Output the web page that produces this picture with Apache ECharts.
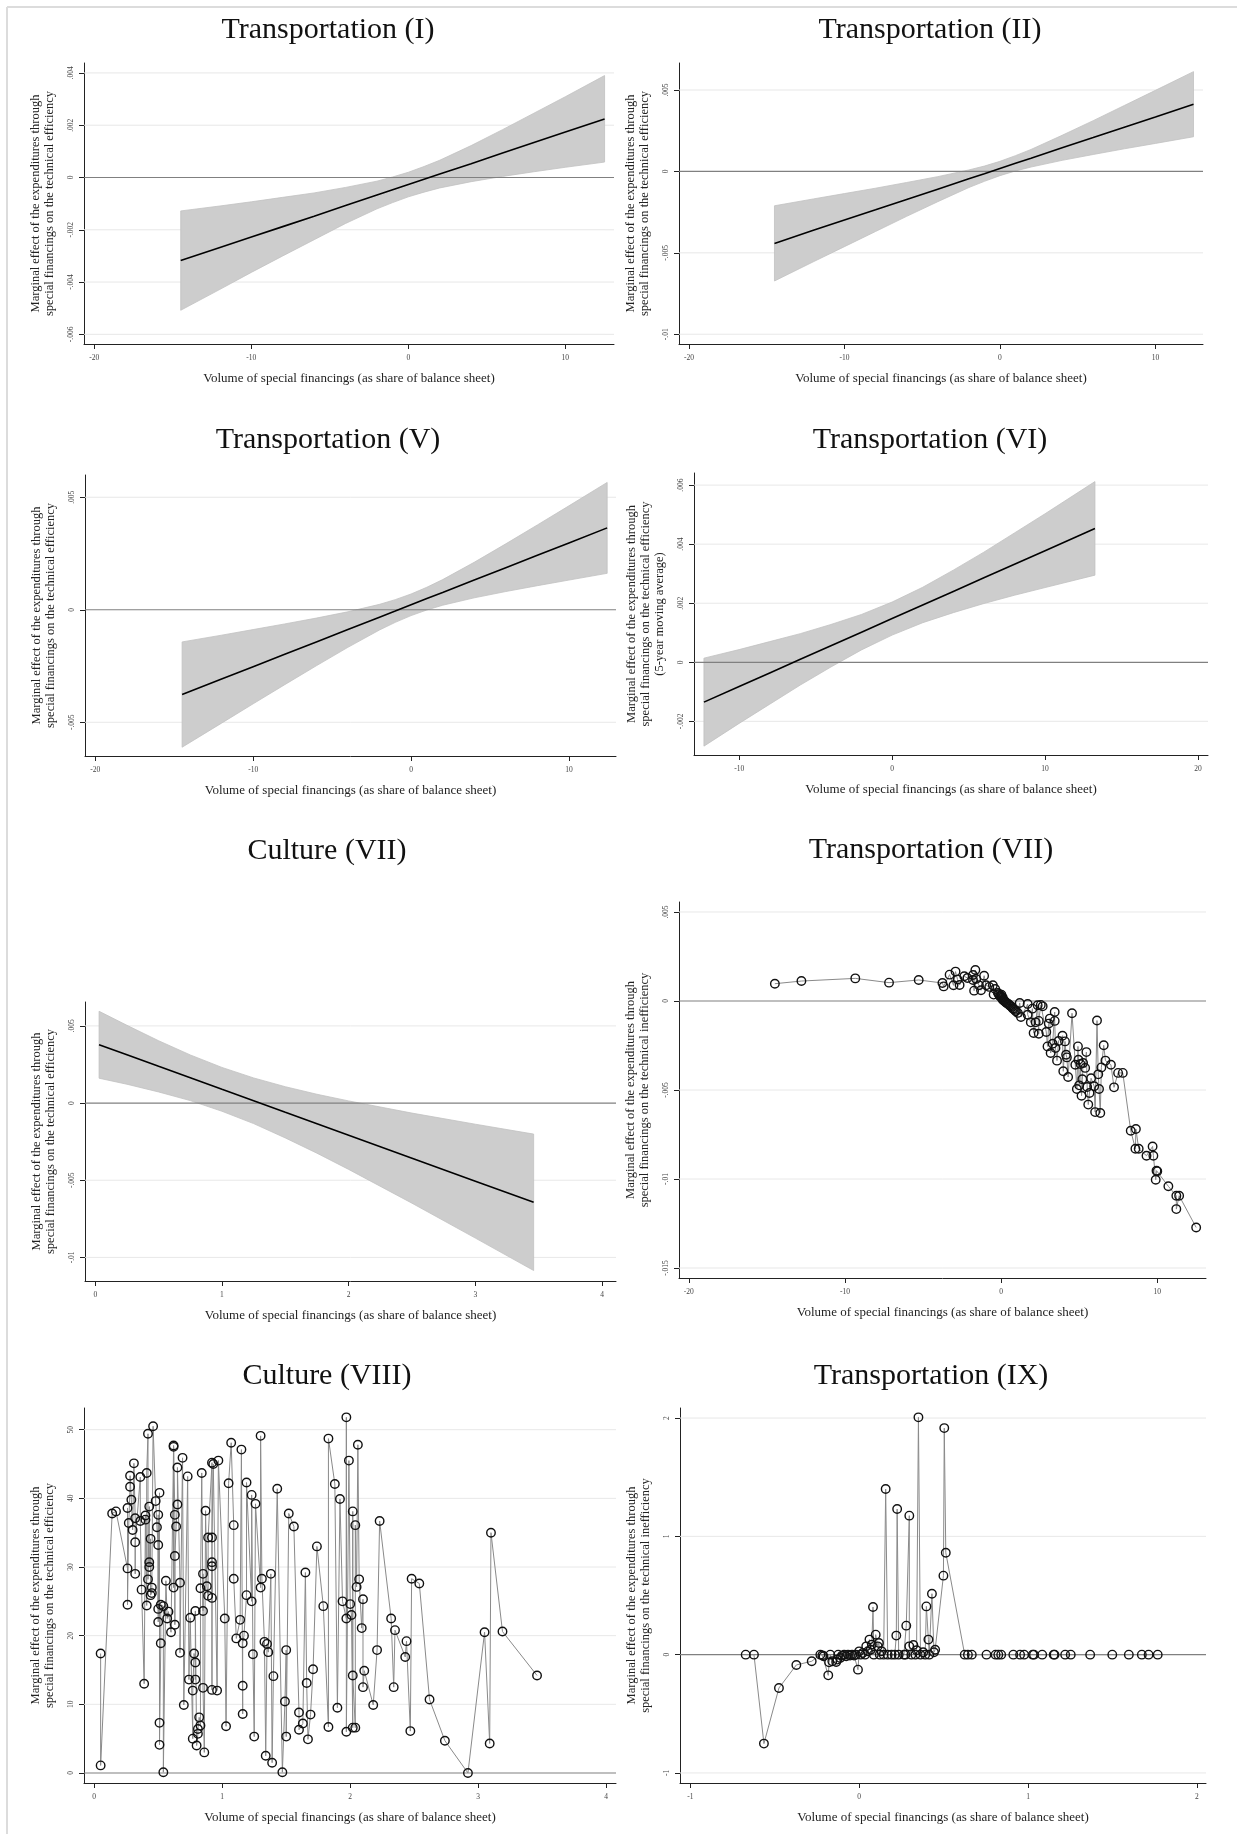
<!DOCTYPE html>
<html><head><meta charset="utf-8">
<script src="https://cdn.jsdelivr.net/npm/echarts@6/dist/echarts.min.js"></script>
<style>html,body{margin:0;padding:0;background:#fff}#c{width:1247px;height:1834px}</style>
</head><body><div id="c"></div>
<script>
// ---------------- DATA ----------------
// Panel 1: Transportation (I)
const p1X     = [-14.5, -12, -10, -8, -6, -4, -2, -1, 0, 1, 2, 4, 6, 8, 10, 12.5];
const p1Fit   = [-0.00318, -0.00268, -0.00228, -0.00188, -0.00148, -0.00107, -0.00067, -0.00047, -0.00027, -0.00007, 0.00013, 0.00053, 0.00094, 0.00134, 0.00174, 0.00224];
const p1Upper = [-0.00128, -0.00109, -0.00093, -0.00076, -0.00059, -0.00038, -0.00014, 0.00002, 0.00020, 0.00042, 0.00066, 0.00122, 0.00183, 0.00246, 0.00309, 0.00390];
const p1Lower = [-0.00508, -0.00428, -0.00363, -0.00300, -0.00238, -0.00176, -0.00120, -0.00096, -0.00074, -0.00056, -0.00040, -0.00016, 0.00004, 0.00022, 0.00039, 0.00059];
const p1XTicks = [-20, -10, 0, 10];            const p1XLabels = ['-20', '-10', '0', '10'];
const p1YTicks = [-0.006, -0.004, -0.002, 0, 0.002, 0.004];
const p1YLabels = ['-.006', '-.004', '-.002', '0', '.002', '.004'];

// Panel 2: Transportation (II)
const p2X     = [-14.5, -12, -10, -8, -6, -4, -2, -1, 0, 1, 2, 4, 6, 8, 10, 12.45];
const p2Fit   = [-0.00442, -0.00362, -0.00299, -0.00236, -0.00172, -0.00109, -0.00045, -0.00014, 0.00018, 0.00050, 0.00081, 0.00145, 0.00208, 0.00272, 0.00335, 0.00413];
const p2Upper = [-0.00211, -0.00169, -0.00136, -0.00103, -0.00068, -0.00032, 0.00009, 0.00033, 0.00062, 0.00097, 0.00135, 0.00222, 0.00312, 0.00405, 0.00498, 0.00613];
const p2Lower = [-0.00673, -0.00555, -0.00462, -0.00369, -0.00276, -0.00186, -0.00099, -0.00061, -0.00026, 0.00003, 0.00027, 0.00068, 0.00104, 0.00139, 0.00172, 0.00213];
const p2XTicks = [-20, -10, 0, 10];            const p2XLabels = ['-20', '-10', '0', '10'];
const p2YTicks = [-0.01, -0.005, 0, 0.005];    const p2YLabels = ['-.01', '-.005', '0', '.005'];

// Panel 3: Transportation (V)
const p3X     = [-14.5, -12, -10, -8, -6, -4, -2, -1, 0, 1, 2, 4, 6, 8, 10, 12.42];
const p3Fit   = [-0.00377, -0.00308, -0.00253, -0.00198, -0.00143, -0.00088, -0.00033, -0.00006, 0.00022, 0.00050, 0.00077, 0.00132, 0.00187, 0.00242, 0.00297, 0.00364];
const p3Upper = [-0.00143, -0.00113, -0.00088, -0.00063, -0.00037, -0.00009, 0.00024, 0.00045, 0.00070, 0.00100, 0.00134, 0.00211, 0.00293, 0.00377, 0.00462, 0.00566];
const p3Lower = [-0.00611, -0.00504, -0.00418, -0.00333, -0.00249, -0.00167, -0.00090, -0.00056, -0.00026, -0.00001, 0.00020, 0.00053, 0.00081, 0.00107, 0.00132, 0.00162];
const p3XTicks = [-20, -10, 0, 10];            const p3XLabels = ['-20', '-10', '0', '10'];
const p3YTicks = [-0.005, 0, 0.005];           const p3YLabels = ['-.005', '0', '.005'];

// Panel 4: Transportation (VI)
const p4X     = [-12.3, -10, -8, -6, -4, -2, 0, 2, 4, 6, 8, 10, 13.26];
const p4Fit   = [-0.00135, -0.00082, -0.00036, 0.00010, 0.00056, 0.00102, 0.00148, 0.00194, 0.00240, 0.00286, 0.00332, 0.00378, 0.00453];
const p4Upper = [0.00014, 0.00043, 0.00070, 0.00097, 0.00128, 0.00162, 0.00204, 0.00254, 0.00312, 0.00373, 0.00438, 0.00503, 0.00612];
const p4Lower = [-0.00284, -0.00207, -0.00142, -0.00077, -0.00016, 0.00042, 0.00092, 0.00134, 0.00168, 0.00199, 0.00227, 0.00253, 0.00295];
const p4XTicks = [-10, 0, 10, 20];             const p4XLabels = ['-10', '0', '10', '20'];
const p4YTicks = [-0.002, 0, 0.002, 0.004, 0.006];
const p4YLabels = ['-.002', '0', '.002', '.004', '.006'];

// Panel 5: Culture (VII)
const p5X     = [0.03, 0.25, 0.5, 0.75, 1.0, 1.25, 1.5, 1.75, 2.0, 2.5, 3.0, 3.46];
const p5Fit   = [0.00378, 0.00313, 0.00238, 0.00164, 0.00089, 0.00015, -0.00060, -0.00134, -0.00208, -0.00357, -0.00506, -0.00643];
const p5Upper = [0.00595, 0.00504, 0.00404, 0.00312, 0.00231, 0.00163, 0.00106, 0.00057, 0.00014, -0.00065, -0.00137, -0.00201];
const p5Lower = [0.00161, 0.00122, 0.00072, 0.00016, -0.00053, -0.00133, -0.00226, -0.00325, -0.00430, -0.00649, -0.00875, -0.01085];
const p5XTicks = [0, 1, 2, 3, 4];              const p5XLabels = ['0', '1', '2', '3', '4'];
const p5YTicks = [-0.01, -0.005, 0, 0.005];    const p5YLabels = ['-.01', '-.005', '0', '.005'];

// Panel 6: Transportation (VII) — connected hollow circles [x, y]
const p6Points = [
  [-14.49,0.00097],[-12.79,0.00112],[-9.34,0.00127],[-7.18,0.00103],[-5.28,0.00118],[-3.76,0.00101],
  [-3.68,0.00082],[-3.30,0.00148],[-3.05,0.00088],[-2.92,0.00165],[-2.79,0.00120],[-2.66,0.00090],
  [-2.36,0.00139],[-2.16,0.00129],[-1.80,0.00118],[-1.80,0.00146],[-1.73,0.00058],[-1.65,0.00174],
  [-1.60,0.00124],[-1.42,0.00088],[-1.29,0.00060],[-1.09,0.00142],[-0.96,0.00088],[-0.76,0.00079],
  [-0.53,0.00088],[-0.48,0.00036],[-0.38,0.00067],[-0.20,0.00045],[-0.15,0.00038],[-0.08,0.00026],
  [-0.05,0.00030],[0.00,0.00022],[0.02,0.00035],[0.05,0.00018],[0.08,0.00011],[0.10,0.00020],
  [0.12,0.00005],[0.18,0.00004],[0.22,-0.00002],[0.30,-0.00007],[0.35,-0.00012],[0.43,-0.00015],
  [0.50,-0.00020],[0.56,-0.00026],[0.62,-0.00030],[0.69,-0.00034],[0.75,-0.00042],[0.81,-0.00045],
  [0.88,-0.00050],[0.94,-0.00058],[1.07,-0.00067],[1.19,-0.00011],[1.27,-0.00090],[1.70,-0.00017],
  [1.70,-0.00077],[1.90,-0.00120],[2.00,-0.00043],[2.08,-0.00180],[2.21,-0.00120],[2.34,-0.00024],
  [2.41,-0.00184],[2.41,-0.00112],[2.54,-0.00022],[2.66,-0.00030],[2.89,-0.00174],[2.97,-0.00255],
  [3.05,-0.00127],[3.12,-0.00099],[3.17,-0.00292],[3.30,-0.00240],[3.43,-0.00062],[3.43,-0.00112],
  [3.48,-0.00264],[3.58,-0.00335],[3.68,-0.00225],[3.93,-0.00195],[3.98,-0.00395],[4.09,-0.00227],
  [4.16,-0.00302],[4.21,-0.00317],[4.29,-0.00427],[4.54,-0.00069],[4.75,-0.00358],[4.85,-0.00494],
  [4.92,-0.00255],[4.95,-0.00330],[5.00,-0.00474],[5.08,-0.00354],[5.15,-0.00532],[5.20,-0.00440],
  [5.25,-0.00348],[5.38,-0.00376],[5.46,-0.00287],[5.51,-0.00483],[5.58,-0.00582],[5.66,-0.00517],
  [5.76,-0.00434],[5.96,-0.00479],[6.02,-0.00624],[6.14,-0.00110],[6.22,-0.00412],[6.27,-0.00494],
  [6.35,-0.00629],[6.42,-0.00373],[6.57,-0.00249],[6.68,-0.00335],[7.03,-0.00358],[7.23,-0.00485],
  [7.49,-0.00404],[7.79,-0.00404],[8.30,-0.00729],[8.60,-0.00830],[8.63,-0.00719],[8.81,-0.00830],
  [9.31,-0.00869],[9.70,-0.00817],[9.75,-0.00869],[9.90,-0.01004],[9.95,-0.00953],[10.00,-0.00957],
  [10.71,-0.01041],[11.22,-0.01094],[11.22,-0.01169],[11.40,-0.01094],[12.49,-0.01272]
];
const p6XTicks = [-20, -10, 0, 10];            const p6XLabels = ['-20', '-10', '0', '10'];
const p6YTicks = [-0.015, -0.01, -0.005, 0, 0.005];
const p6YLabels = ['-.015', '-.01', '-.005', '0', '.005'];

// Panel 7: Culture (VIII) — connected hollow circles [x, y]
const p7Points = [
  [.05,17.4],[.05,1.1],[.14,37.8],[.17,38.1],[.26,29.8],[.26,38.6],[.26,24.5],[.27,36.4],[.28,41.7],[.28,43.3],
  [.29,39.8],[.30,35.4],[.31,45.1],[.32,37.1],[.32,29.0],[.32,33.6],[.36,43.1],[.36,36.7],[.37,26.7],[.39,13.0],
  [.40,37.5],[.40,36.9],[.41,24.4],[.41,43.7],[.42,49.4],[.42,28.2],[.43,38.8],[.43,30.7],[.43,30.0],[.44,34.1],
  [.44,25.9],[.45,26.2],[.45,27.0],[.46,50.5],[.48,39.6],[.49,35.8],[.50,33.2],[.50,22.0],[.50,37.6],[.50,23.9],
  [.51,40.8],[.51,7.3],[.51,4.1],[.52,18.9],[.52,24.5],[.54,24.3],[.54,0.1],[.56,28.0],[.57,22.5],[.58,23.5],
  [.60,20.5],[.62,47.7],[.62,27.0],[.62,47.5],[.63,37.6],[.63,21.6],[.63,31.6],[.64,35.9],[.65,39.1],[.65,44.5],
  [.67,27.7],[.67,17.5],[.69,45.9],[.70,9.9],[.73,43.2],[.74,13.6],[.75,22.6],[.77,5.0],[.77,12.0],[.78,17.4],
  [.79,16.1],[.79,13.6],[.79,23.6],[.80,4.0],[.81,5.7],[.81,6.4],[.82,8.1],[.83,6.9],[.83,26.9],[.84,43.7],
  [.85,23.6],[.85,29.0],[.85,12.4],[.86,3.0],[.87,38.2],[.88,27.2],[.89,25.8],[.89,34.3],[.92,45.2],[.92,12.1],
  [.92,30.7],[.92,30.1],[.92,25.5],[.92,34.3],[.93,45.0],[.96,12.0],[.97,45.5],[1.02,22.5],[1.03,6.8],[1.05,42.2],
  [1.07,48.1],[1.09,36.1],[1.09,28.3],[1.11,19.6],[1.14,22.3],[1.15,47.1],[1.16,8.6],[1.16,12.7],[1.16,18.9],[1.17,20.0],
  [1.19,25.9],[1.19,42.3],[1.23,25.0],[1.23,40.5],[1.24,17.3],[1.25,5.3],[1.26,39.2],[1.30,27.0],[1.30,49.1],[1.31,28.3],
  [1.33,19.1],[1.34,2.5],[1.35,18.8],[1.36,17.6],[1.38,29.0],[1.39,1.5],[1.40,14.1],[1.43,41.4],[1.47,0.1],[1.49,10.4],
  [1.50,17.9],[1.50,5.3],[1.52,37.8],[1.56,35.9],[1.60,8.8],[1.60,6.3],[1.63,7.2],[1.65,29.2],[1.66,13.1],[1.67,4.9],
  [1.69,8.5],[1.71,15.1],[1.74,33.0],[1.79,24.3],[1.83,6.7],[1.83,48.7],[1.88,42.1],[1.90,9.5],[1.92,39.9],[1.94,25.0],
  [1.97,22.5],[1.97,51.8],[1.97,6.0],[1.99,45.5],[2.00,24.6],[2.01,23.0],[2.02,6.6],[2.02,38.1],[2.02,14.2],[2.04,6.6],
  [2.04,36.1],[2.05,27.1],[2.06,47.8],[2.07,28.2],[2.09,21.1],[2.10,25.3],[2.10,12.5],[2.11,14.9],[2.18,9.9],[2.21,17.9],
  [2.23,36.7],[2.32,22.5],[2.34,12.5],[2.35,20.8],[2.43,16.9],[2.44,19.2],[2.47,6.1],[2.48,28.3],[2.54,27.6],[2.62,10.7],
  [2.74,4.7],[2.92,0.0],[3.05,20.5],[3.09,4.3],[3.10,35.0],[3.19,20.6],[3.46,14.2]
];
const p7XTicks = [0, 1, 2, 3, 4];              const p7XLabels = ['0', '1', '2', '3', '4'];
const p7YTicks = [0, 10, 20, 30, 40, 50];      const p7YLabels = ['0', '10', '20', '30', '40', '50'];

// Panel 8: Transportation (IX) — connected hollow circles [x, y]
const p8Points = [
  [-0.672,0],[-0.623,0],[-0.564,-0.752],[-0.475,-0.282],[-0.372,-0.087],[-0.281,-0.056],[-0.230,0],[-0.218,-0.006],
  [-0.211,-0.014],[-0.183,-0.175],[-0.178,-0.065],[-0.171,0],[-0.159,-0.056],[-0.136,-0.062],[-0.129,-0.042],[-0.124,0],
  [-0.112,-0.028],[-0.101,-0.008],[-0.089,0],[-0.077,-0.014],[-0.066,0],[-0.054,-0.008],[-0.042,0],[-0.030,-0.008],
  [-0.019,0],[-0.007,-0.127],[0.000,0.028],[0.009,0],[0.021,0.014],[0.035,0],[0.042,0.070],[0.052,0.028],
  [0.061,0.127],[0.068,0.042],[0.075,0.085],[0.082,0.403],[0.087,0],[0.098,0.169],[0.110,0.070],[0.117,0.099],
  [0.122,0],[0.133,0.028],[0.145,0],[0.157,1.40],[0.169,0],[0.192,0],[0.211,0],[0.220,0.161],
  [0.225,1.231],[0.234,0],[0.265,0],[0.274,0],[0.279,0.245],[0.297,1.175],[0.297,0.070],[0.309,0],
  [0.321,0.082],[0.333,0],[0.340,0.037],[0.351,2.006],[0.363,0],[0.379,0.020],[0.391,0],[0.398,0.408],
  [0.410,0.127],[0.415,0],[0.431,0.515],[0.443,0.020],[0.450,0.042],[0.499,0.668],[0.504,1.915],[0.513,0.862],
  [0.625,0],[0.644,0],[0.667,0],[0.754,0],[0.808,0],[0.824,0],[0.841,0],[0.913,0],
  [0.953,0],[0.977,0],[1.028,0],[1.035,0],[1.084,0],[1.152,0],[1.157,0],[1.220,0],
  [1.253,0],[1.368,0],[1.499,0],[1.597,0],[1.674,0],[1.714,0],[1.768,0]
];
const p8XTicks = [-1, 0, 1, 2];                const p8XLabels = ['-1', '0', '1', '2'];
const p8YTicks = [-1, 0, 1, 2];                const p8YLabels = ['-1', '0', '1', '2'];

const xTitle = 'Volume of special financings (as share of balance sheet)';
const yTitleEff = 'Marginal effect of the expenditures through\nspecial financings on the technical efficiency';
const yTitleIneff = 'Marginal effect of the expenditures through\nspecial financings on the technical inefficiency';
const yTitleMA = 'Marginal effect of the expenditures through\nspecial financings on the technical efficiency\n(5-year moving average)';

// ---------------- LAYOUT ----------------
const FONT = "'Liberation Serif', 'Times New Roman', serif";
const panels = [
  {title:'Transportation (I)', tx:328, ty:30, g:[84,63,530,281], xr:[-20.66,13.1], yr:[-0.00637,0.00438],
   xt:p1XTicks, xl:p1XLabels, yt:p1YTicks, yl:p1YLabels, yn:yTitleEff, band:{x:p1X,fit:p1Fit,up:p1Upper,lo:p1Lower}},
  {title:'Transportation (II)', tx:930, ty:30, g:[679,63,524,281], xr:[-20.64,13.06], yr:[-0.0106,0.00666],
   xt:p2XTicks, xl:p2XLabels, yt:p2YTicks, yl:p2YLabels, yn:yTitleEff, band:{x:p2X,fit:p2Fit,up:p2Upper,lo:p2Lower}},
  {title:'Transportation (V)', tx:328, ty:440, g:[85,475,531,281], xr:[-20.65,12.98], yr:[-0.0065,0.00599],
   xt:p3XTicks, xl:p3XLabels, yt:p3YTicks, yl:p3YLabels, yn:yTitleEff, band:{x:p3X,fit:p3Fit,up:p3Upper,lo:p3Lower}},
  {title:'Transportation (VI)', tx:930, ty:440, g:[694,473,514,282], xr:[-12.95,20.65], yr:[-0.00314,0.00641],
   xt:p4XTicks, xl:p4XLabels, yt:p4YTicks, yl:p4YLabels, yn:yTitleMA, band:{x:p4X,fit:p4Fit,up:p4Upper,lo:p4Lower}},
  {title:'Culture (VII)', tx:327, ty:851, g:[85,1002,531,279], xr:[-0.081,4.11], yr:[-0.01153,0.00655],
   xt:p5XTicks, xl:p5XLabels, yt:p5YTicks, yl:p5YLabels, yn:yTitleEff, band:{x:p5X,fit:p5Fit,up:p5Upper,lo:p5Lower}},
  {title:'Transportation (VII)', tx:931, ty:850, g:[679,902,527,376], xr:[-20.63,13.12], yr:[-0.01556,0.00556],
   xt:p6XTicks, xl:p6XLabels, yt:p6YTicks, yl:p6YLabels, yn:yTitleIneff, pts:p6Points},
  {title:'Culture (VIII)', tx:327, ty:1376, g:[84,1408,532,375], xr:[-0.08,4.077], yr:[-1.46,53.16],
   xt:p7XTicks, xl:p7XLabels, yt:p7YTicks, yl:p7YLabels, yn:yTitleEff, pts:p7Points},
  {title:'Transportation (IX)', tx:931, ty:1376, g:[680,1408,526,375], xr:[-1.061,2.054], yr:[-1.085,2.085],
   xt:p8XTicks, xl:p8XLabels, yt:p8YTicks, yl:p8YLabels, yn:yTitleIneff, pts:p8Points}
];

function labelFor(v, ticks, labels) {
  for (let i = 0; i < ticks.length; i++) if (Math.abs(ticks[i] - v) < 1e-9 * Math.max(1, Math.abs(v)) || Math.abs(ticks[i]-v) < 1e-12) return labels[i];
  return '';
}

const option = {
  animation: false,
  backgroundColor: '#ffffff',
  title: [], grid: [], xAxis: [], yAxis: [], series: [],
  graphic: [
    {type:'line', shape:{x1:7,y1:7,x2:1237,y2:7}, style:{stroke:'#dcdcdc', lineWidth:2}, silent:true},
    {type:'line', shape:{x1:7,y1:7,x2:7,y2:1834}, style:{stroke:'#dcdcdc', lineWidth:2}, silent:true}
  ]
};

panels.forEach((p, i) => {
  option.title.push({text:p.title, left:p.tx, top:p.ty - 17, textAlign:'center', padding:0,
    textStyle:{fontFamily:FONT, fontSize:30, fontWeight:'normal', color:'#111', lineHeight:34}});
  option.grid.push({left:p.g[0], top:p.g[1], width:p.g[2], height:p.g[3], containLabel:false});
  option.xAxis.push({gridIndex:i, type:'value', min:p.xr[0], max:p.xr[1],
    name:xTitle, nameLocation:'middle', nameGap:28,
    nameTextStyle:{fontFamily:FONT, fontSize:13, color:'#222'},
    axisLine:{show:true, onZero:false, lineStyle:{color:'#222', width:1}},
    axisTick:{show:true, length:5, customValues:p.xt, lineStyle:{color:'#222', width:1}},
    axisLabel:{show:true, customValues:p.xt, margin:10, fontFamily:FONT, fontSize:7.5, color:'#444',
      formatter:(v)=>labelFor(v, p.xt, p.xl)},
    splitLine:{show:false}});
  option.yAxis.push({gridIndex:i, type:'value', min:p.yr[0], max:p.yr[1],
    name:p.yn, nameLocation:'middle', nameGap:27, nameRotate:90,
    nameTextStyle:{fontFamily:FONT, fontSize:12.5, lineHeight:14, color:'#222', align:'center'},
    axisLine:{show:true, onZero:false, lineStyle:{color:'#222', width:1}},
    axisTick:{show:true, length:5, customValues:p.yt, lineStyle:{color:'#222', width:1}},
    axisLabel:{show:true, customValues:p.yt, rotate:90, margin:9, fontFamily:FONT, fontSize:7.5, color:'#444',
      formatter:(v)=>labelFor(v, p.yt, p.yl)},
    splitLine:{show:false}});

  // gridlines and zero line
  p.yt.forEach(t => {
    const zero = Math.abs(t) < 1e-12;
    option.series.push({type:'line', xAxisIndex:i, yAxisIndex:i, silent:true, symbol:'none',
      data:[[p.xr[0], t], [p.xr[1], t]], z: zero ? 3 : 1,
      lineStyle:{color: zero ? '#808080' : '#e8e8e8', width: zero ? 1.2 : 1}});
  });

  if (p.band) {
    const b = p.band;
    option.series.push({type:'custom', xAxisIndex:i, yAxisIndex:i, silent:true, z:2,
      data: b.x.map((x, k) => [x, b.lo[k], b.up[k]]),
      encode:{x:0, y:[1,2]},
      renderItem:(params, api) => {
        if (params.dataIndex !== 0) return null;
        const pts = [];
        for (let k = 0; k < b.x.length; k++) pts.push(api.coord([b.x[k], b.up[k]]));
        for (let k = b.x.length - 1; k >= 0; k--) pts.push(api.coord([b.x[k], b.lo[k]]));
        return {type:'polygon', shape:{points:pts}, style:{fill:'#cdcdcd', stroke:'#c2c2c2', lineWidth:0.8}};
      }});
    option.series.push({type:'line', xAxisIndex:i, yAxisIndex:i, silent:true, symbol:'none', z:4,
      data: b.x.map((x, k) => [x, b.fit[k]]),
      lineStyle:{color:'#000', width:1.6}});
  } else {
    const pts = p.pts.slice().sort((a, c) => a[0] - c[0]);
    option.series.push({type:'line', xAxisIndex:i, yAxisIndex:i, silent:true, z:4,
      data: pts, symbol:'circle', symbolSize:8.5, showSymbol:true, showAllSymbol:true,
      itemStyle:{color:'rgba(255,255,255,0)', borderColor:'#111', borderWidth:1.4},
      lineStyle:{color:'#8a8a8a', width:1}});
  }
});

const chart = echarts.init(document.getElementById('c'), null, {renderer:'canvas', width:1247, height:1834});
chart.setOption(option);
</script></body></html>
